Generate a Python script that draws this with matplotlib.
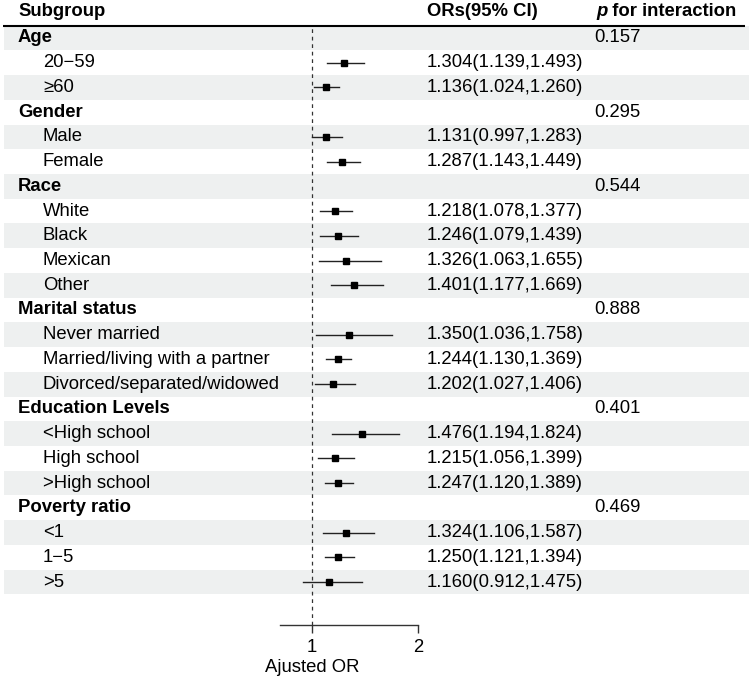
import matplotlib.pyplot as plt
from matplotlib.patches import Rectangle
from matplotlib.transforms import blended_transform_factory

plt.rcParams['font.family'] = ['Liberation Sans', 'DejaVu Sans']

# Data
labels = ['Age', '20\u221259', '\u226560',
          'Gender', 'Male', 'Female',
          'Race', 'White', 'Black', 'Mexican', 'Other',
          'Marital status', 'Never married', 'Married/living with a partner',
          'Divorced/separated/widowed',
          'Education Levels', '<High school', 'High school', '>High school',
          'Poverty ratio', '<1', '1\u22125', '>5']
is_group = [True, False, False,
            True, False, False,
            True, False, False, False, False,
            True, False, False, False,
            True, False, False, False,
            True, False, False, False]
ors = [None, 1.304, 1.136,
       None, 1.131, 1.287,
       None, 1.218, 1.246, 1.326, 1.401,
       None, 1.350, 1.244, 1.202,
       None, 1.476, 1.215, 1.247,
       None, 1.324, 1.250, 1.160]
lows = [None, 1.139, 1.024,
        None, 0.997, 1.143,
        None, 1.078, 1.079, 1.063, 1.177,
        None, 1.036, 1.130, 1.027,
        None, 1.194, 1.056, 1.120,
        None, 1.106, 1.121, 0.912]
highs = [None, 1.493, 1.260,
         None, 1.283, 1.449,
         None, 1.377, 1.439, 1.655, 1.669,
         None, 1.758, 1.369, 1.406,
         None, 1.824, 1.399, 1.389,
         None, 1.587, 1.394, 1.475]
p_inter = ['0.157', None, None,
           '0.295', None, None,
           '0.544', None, None, None, None,
           '0.888', None, None, None,
           '0.401', None, None, None,
           '0.469', None, None, None]

W, H = 749, 682
row_h = 24.73
top = 25.6
axis_y = 625
fs = 13.3

fig = plt.figure(figsize=(W / 100, H / 100), dpi=100)

# full-figure axes: x in pixels, y in row units
ax = fig.add_axes([0, 0, 1, 1])
ax.set_xlim(0, W)
ax.set_ylim((H - top) / row_h - 0.5, -top / row_h - 0.5)
ax.axis('off')

n = len(labels)
for i in range(n):
    if i % 2 == 0:
        ax.add_patch(Rectangle((4, i - 0.5), W - 4, 1, color='#eef0f0', lw=0, zorder=0))
    if is_group[i]:
        ax.text(18, i, labels[i], fontsize=fs, fontweight='bold', va='center', ha='left')
    else:
        ax.text(43, i, labels[i], fontsize=fs, va='center', ha='left')
    if ors[i] is not None:
        ax.text(427, i, '%.3f(%.3f,%.3f)' % (ors[i], lows[i], highs[i]),
                fontsize=fs, va='center', ha='left')
    if p_inter[i] is not None:
        ax.text(594, i, p_inter[i], fontsize=fs, va='center', ha='left')

# header
hy = -1.05
ax.text(18, hy, 'Subgroup', fontsize=fs, fontweight='bold', va='center', ha='left')
ax.text(427, hy, 'ORs(95% CI)', fontsize=fs, fontweight='bold', va='center', ha='left')
tp = ax.text(596, hy, 'p', fontsize=fs, fontweight='bold', fontstyle='italic',
             va='center', ha='left')
ax.annotate(' for interaction', xy=(1, 0), xycoords=tp, fontsize=fs,
            fontweight='bold', va='bottom', ha='left')
ax.plot([3, 745], [-0.5, -0.5], color='black', lw=1.5, solid_capstyle='butt')

# forest panel
x0, x1 = 280, 418
fax = fig.add_axes([x0 / W, (H - axis_y) / H, (x1 - x0) / W, (axis_y - top) / H])
fax.patch.set_alpha(0)
fax.set_xlim(0.7, 2)
fax.set_ylim((axis_y - top) / row_h - 0.5, -0.5)
for s in ['left', 'top', 'right']:
    fax.spines[s].set_visible(False)
fax.spines['bottom'].set_color('#333333')
fax.spines['bottom'].set_linewidth(1)
fax.set_yticks([])
fax.set_xticks([1, 2])
fax.set_xticklabels(['1', '2'])
fax.tick_params(axis='x', direction='out', length=6, width=1, color='#333333',
                labelsize=fs, pad=4)
fax.axvline(1, color='#333333', lw=0.9, linestyle=(0, (3, 3)))

for i in range(n):
    if ors[i] is None:
        continue
    fax.plot([lows[i], highs[i]], [i, i], color='#222222', lw=1)
    fax.plot(ors[i], i, marker='s', markersize=4.5, color='black')

tr = blended_transform_factory(fax.transData, ax.transData)
ax.text(1, (668 - top) / row_h - 0.5, 'Ajusted OR', transform=tr, fontsize=fs,
        ha='center', va='center')

fig.savefig('out.png', dpi=100)
